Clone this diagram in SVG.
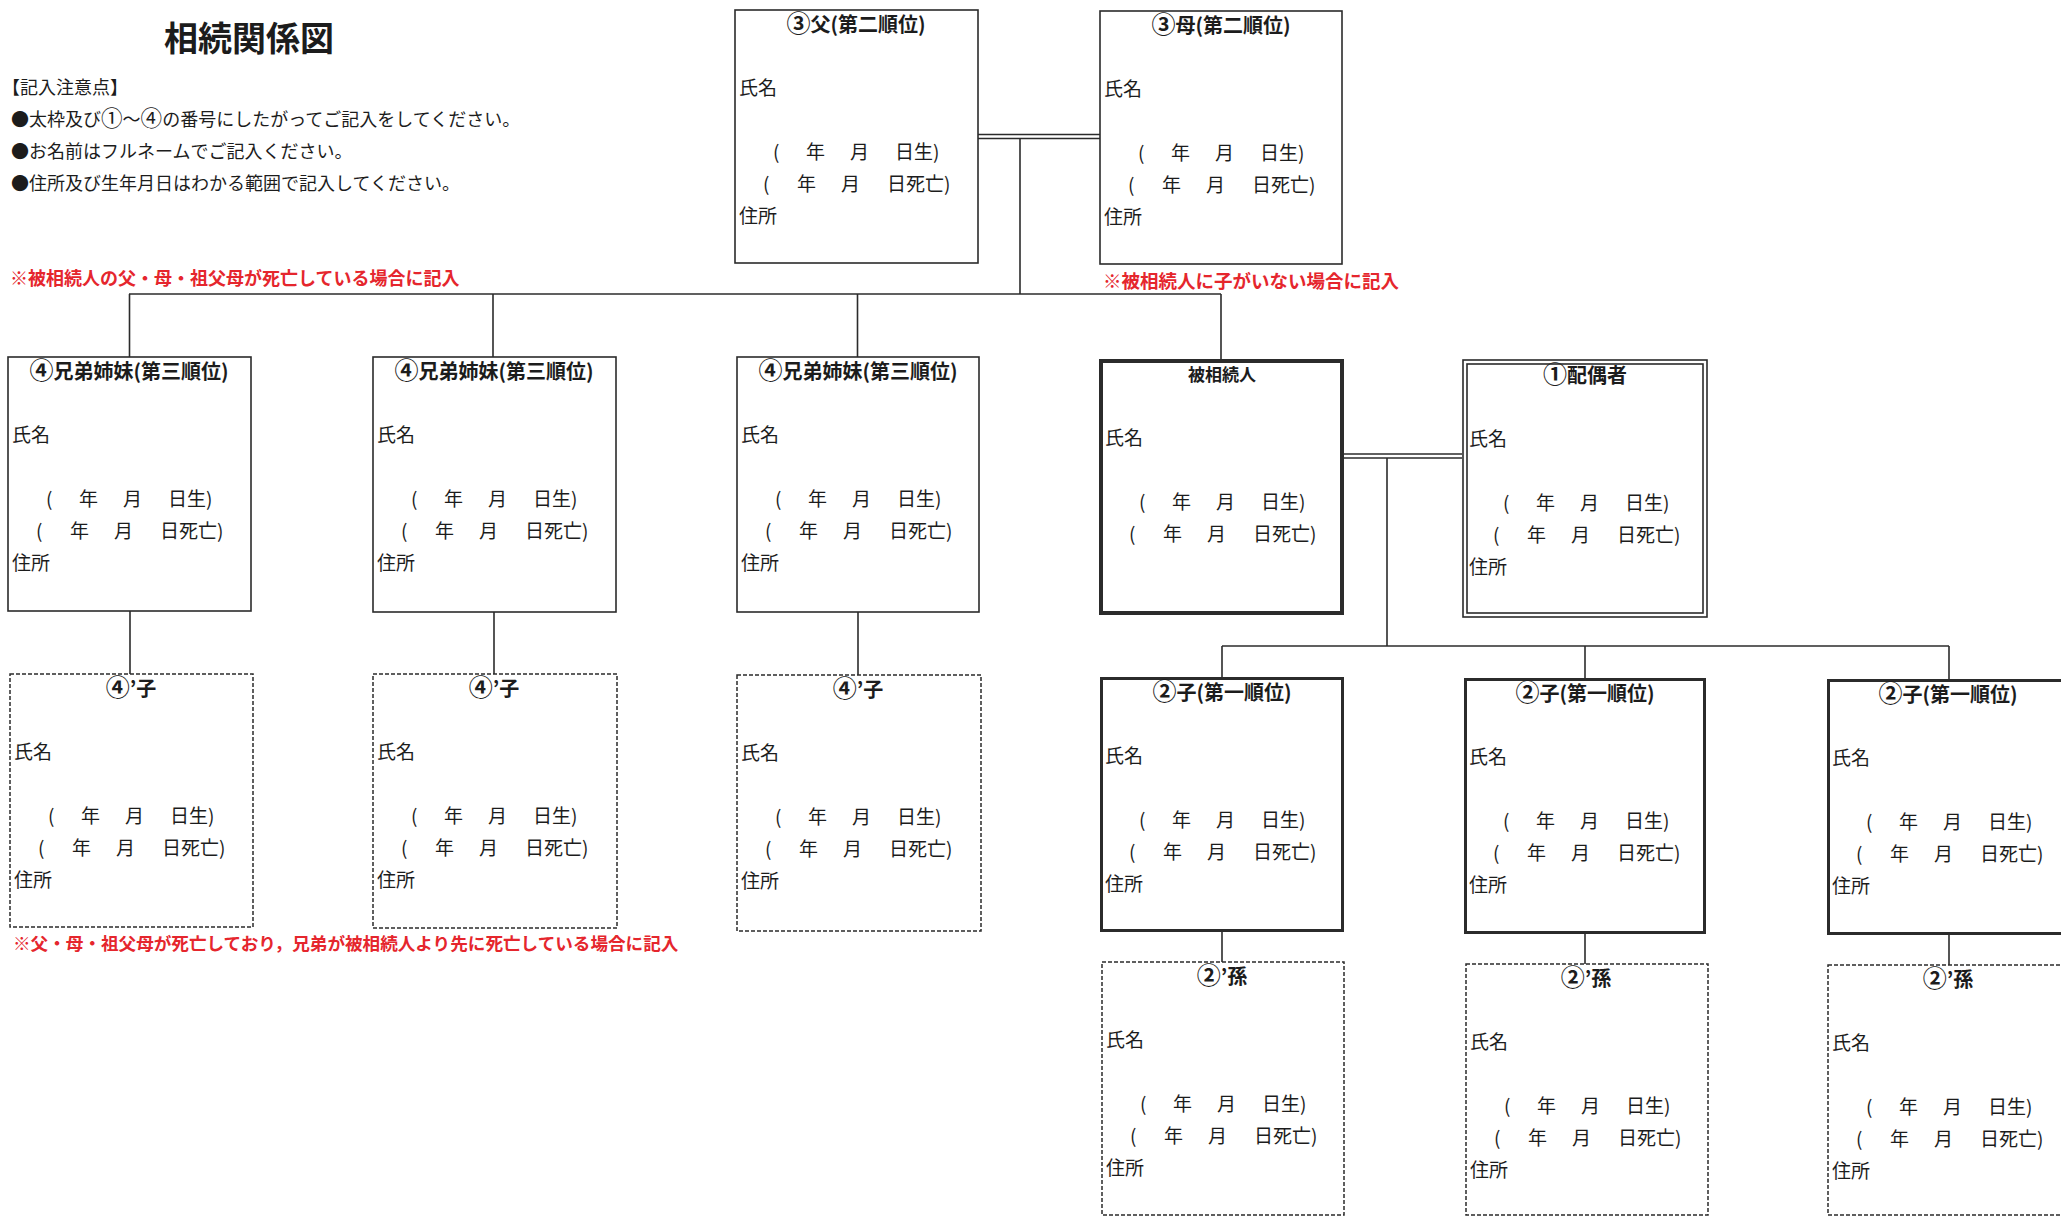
<svg xmlns="http://www.w3.org/2000/svg" width="2061" height="1217" viewBox="0 0 2061 1217">
<style>
.bg{fill:#ffffff}
.box{fill:none;stroke:#2b2b2b;stroke-width:1.6}
.thick{fill:none;stroke:#2b2b2b;stroke-width:4}
.bold{fill:none;stroke:#2b2b2b;stroke-width:3}
.dash{fill:none;stroke:#2b2b2b;stroke-width:1.5;stroke-dasharray:4 2}
.ln{fill:none;stroke:#2b2b2b;stroke-width:1.6}
text{font-family:"Noto Sans CJK JP","Noto Sans CJK SC",sans-serif;fill:#1c1c1c}
.t{font-size:19px}
.h{font-size:20px;font-weight:bold;text-anchor:middle}
.note{font-size:18px}
.red{fill:#e5262d;font-weight:bold}
.cn{font-size:1.2em}
</style>
<rect class="bg" x="0" y="0" width="2061" height="1217"/>

<g id="header">
<text x="164" y="51" style="font-size:34px;font-weight:bold">相続関係図</text>
<text class="note" x="2" y="94">【記入注意点】</text>
<text class="note" x="11" y="126">●太枠及び<tspan class="cn">①</tspan>～<tspan class="cn">④</tspan>の番号にしたがってご記入をしてください。</text>
<text class="note" x="11" y="158">●お名前はフルネームでご記入ください。</text>
<text class="note" x="11" y="190">●住所及び生年月日はわかる範囲で記入してください。</text>
<text class="note red" x="10" y="285">※被相続人の父・母・祖父母が死亡している場合に記入</text>
<text class="note red" x="1103" y="288" style="font-size:18.5px">※被相続人に子がいない場合に記入</text>
<text class="note red" x="13" y="950" style="font-size:17.6px">※父・母・祖父母が死亡しており，兄弟が被相続人より先に死亡している場合に記入</text>
</g>

<g id="connectors">
<line class="ln" x1="978" y1="134.5" x2="1100" y2="134.5"/>
<line class="ln" x1="978" y1="138.5" x2="1100" y2="138.5"/>
<line class="ln" x1="1020" y1="138.5" x2="1020" y2="294"/>
<line class="ln" x1="129" y1="294" x2="1221" y2="294"/>
<line class="ln" x1="129.5" y1="294" x2="129.5" y2="357"/>
<line class="ln" x1="493" y1="294" x2="493" y2="357"/>
<line class="ln" x1="857.5" y1="294" x2="857.5" y2="357"/>
<line class="ln" x1="1221" y1="294" x2="1221" y2="359"/>
<line class="ln" x1="130" y1="611" x2="130" y2="674"/>
<line class="ln" x1="494" y1="612" x2="494" y2="674"/>
<line class="ln" x1="858" y1="612" x2="858" y2="675"/>
<line class="ln" x1="1344" y1="454" x2="1462" y2="454"/>
<line class="ln" x1="1344" y1="458" x2="1462" y2="458"/>
<line class="ln" x1="1387" y1="458" x2="1387" y2="646"/>
<line class="ln" x1="1222" y1="646" x2="1949" y2="646"/>
<line class="ln" x1="1222" y1="646" x2="1222" y2="677"/>
<line class="ln" x1="1585" y1="646" x2="1585" y2="678"/>
<line class="ln" x1="1949" y1="646" x2="1949" y2="679"/>
<line class="ln" x1="1222" y1="931" x2="1222" y2="962"/>
<line class="ln" x1="1585" y1="933" x2="1585" y2="964"/>
<line class="ln" x1="1949" y1="934" x2="1949" y2="965"/>
</g>

<g id="father" transform="translate(735,10)">
<rect class="box" x="0" y="0" width="243" height="253"/>
<text class="h" x="121" y="22"><tspan class="cn">③</tspan>父(第二順位)</text>
<text class="t" x="4" y="85">氏名</text>
<text class="t" y="149"><tspan x="38">(</tspan><tspan x="71">年</tspan><tspan x="115">月</tspan><tspan x="160">日生)</tspan></text>
<text class="t" y="181"><tspan x="28">(</tspan><tspan x="62">年</tspan><tspan x="106">月</tspan><tspan x="152">日死亡)</tspan></text>
<text class="t" x="4" y="213">住所</text>
</g>

<g id="mother" transform="translate(1100,11)">
<rect class="box" x="0" y="0" width="242" height="253"/>
<text class="h" x="121" y="22"><tspan class="cn">③</tspan>母(第二順位)</text>
<text class="t" x="4" y="85">氏名</text>
<text class="t" y="149"><tspan x="38">(</tspan><tspan x="71">年</tspan><tspan x="115">月</tspan><tspan x="160">日生)</tspan></text>
<text class="t" y="181"><tspan x="28">(</tspan><tspan x="62">年</tspan><tspan x="106">月</tspan><tspan x="152">日死亡)</tspan></text>
<text class="t" x="4" y="213">住所</text>
</g>

<g id="sibling1" transform="translate(8,357)">
<rect class="box" x="0" y="0" width="243" height="254"/>
<text class="h" x="121" y="22"><tspan class="cn">④</tspan>兄弟姉妹(第三順位)</text>
<text class="t" x="4" y="85">氏名</text>
<text class="t" y="149"><tspan x="38">(</tspan><tspan x="71">年</tspan><tspan x="115">月</tspan><tspan x="160">日生)</tspan></text>
<text class="t" y="181"><tspan x="28">(</tspan><tspan x="62">年</tspan><tspan x="106">月</tspan><tspan x="152">日死亡)</tspan></text>
<text class="t" x="4" y="213">住所</text>
</g>

<g id="sibling2" transform="translate(373,357)">
<rect class="box" x="0" y="0" width="243" height="255"/>
<text class="h" x="121" y="22"><tspan class="cn">④</tspan>兄弟姉妹(第三順位)</text>
<text class="t" x="4" y="85">氏名</text>
<text class="t" y="149"><tspan x="38">(</tspan><tspan x="71">年</tspan><tspan x="115">月</tspan><tspan x="160">日生)</tspan></text>
<text class="t" y="181"><tspan x="28">(</tspan><tspan x="62">年</tspan><tspan x="106">月</tspan><tspan x="152">日死亡)</tspan></text>
<text class="t" x="4" y="213">住所</text>
</g>

<g id="sibling3" transform="translate(737,357)">
<rect class="box" x="0" y="0" width="242" height="255"/>
<text class="h" x="121" y="22"><tspan class="cn">④</tspan>兄弟姉妹(第三順位)</text>
<text class="t" x="4" y="85">氏名</text>
<text class="t" y="149"><tspan x="38">(</tspan><tspan x="71">年</tspan><tspan x="115">月</tspan><tspan x="160">日生)</tspan></text>
<text class="t" y="181"><tspan x="28">(</tspan><tspan x="62">年</tspan><tspan x="106">月</tspan><tspan x="152">日死亡)</tspan></text>
<text class="t" x="4" y="213">住所</text>
</g>

<g id="decedent" transform="translate(1099,359)">
<rect class="thick" x="2" y="2" width="241" height="252"/>
<text class="h" x="123" y="22" style="font-size:17px">被相続人</text>
<text class="t" x="6" y="86">氏名</text>
<text class="t" y="150"><tspan x="40">(</tspan><tspan x="73">年</tspan><tspan x="117">月</tspan><tspan x="162">日生)</tspan></text>
<text class="t" y="182"><tspan x="30">(</tspan><tspan x="64">年</tspan><tspan x="108">月</tspan><tspan x="154">日死亡)</tspan></text>
</g>

<g id="spouse" transform="translate(1462,359)">
<rect class="box" x="1" y="1" width="244" height="257"/>
<rect class="box" x="5" y="5" width="236" height="249"/>
<text class="h" x="123" y="24"><tspan class="cn">①</tspan>配偶者</text>
<text class="t" x="7" y="87">氏名</text>
<text class="t" y="151"><tspan x="41">(</tspan><tspan x="74">年</tspan><tspan x="118">月</tspan><tspan x="163">日生)</tspan></text>
<text class="t" y="183"><tspan x="31">(</tspan><tspan x="65">年</tspan><tspan x="109">月</tspan><tspan x="155">日死亡)</tspan></text>
<text class="t" x="7" y="215">住所</text>
</g>

<g id="sibchild1" transform="translate(10,674)">
<rect class="dash" x="0" y="0" width="243" height="253"/>
<text class="h" x="121" y="22"><tspan class="cn">④</tspan>’子</text>
<text class="t" x="4" y="85">氏名</text>
<text class="t" y="149"><tspan x="38">(</tspan><tspan x="71">年</tspan><tspan x="115">月</tspan><tspan x="160">日生)</tspan></text>
<text class="t" y="181"><tspan x="28">(</tspan><tspan x="62">年</tspan><tspan x="106">月</tspan><tspan x="152">日死亡)</tspan></text>
<text class="t" x="4" y="213">住所</text>
</g>

<g id="sibchild2" transform="translate(373,674)">
<rect class="dash" x="0" y="0" width="244" height="254"/>
<text class="h" x="121" y="22"><tspan class="cn">④</tspan>’子</text>
<text class="t" x="4" y="85">氏名</text>
<text class="t" y="149"><tspan x="38">(</tspan><tspan x="71">年</tspan><tspan x="115">月</tspan><tspan x="160">日生)</tspan></text>
<text class="t" y="181"><tspan x="28">(</tspan><tspan x="62">年</tspan><tspan x="106">月</tspan><tspan x="152">日死亡)</tspan></text>
<text class="t" x="4" y="213">住所</text>
</g>

<g id="sibchild3" transform="translate(737,675)">
<rect class="dash" x="0" y="0" width="244" height="256"/>
<text class="h" x="121" y="22"><tspan class="cn">④</tspan>’子</text>
<text class="t" x="4" y="85">氏名</text>
<text class="t" y="149"><tspan x="38">(</tspan><tspan x="71">年</tspan><tspan x="115">月</tspan><tspan x="160">日生)</tspan></text>
<text class="t" y="181"><tspan x="28">(</tspan><tspan x="62">年</tspan><tspan x="106">月</tspan><tspan x="152">日死亡)</tspan></text>
<text class="t" x="4" y="213">住所</text>
</g>

<g id="child1" transform="translate(1100,677)">
<rect class="bold" x="1.5" y="1.5" width="241" height="252"/>
<text class="h" x="122" y="23"><tspan class="cn">②</tspan>子(第一順位)</text>
<text class="t" x="5" y="86">氏名</text>
<text class="t" y="150"><tspan x="39">(</tspan><tspan x="72">年</tspan><tspan x="116">月</tspan><tspan x="161">日生)</tspan></text>
<text class="t" y="182"><tspan x="29">(</tspan><tspan x="63">年</tspan><tspan x="107">月</tspan><tspan x="153">日死亡)</tspan></text>
<text class="t" x="5" y="214">住所</text>
</g>

<g id="child2" transform="translate(1464,678)">
<rect class="bold" x="1.5" y="1.5" width="239" height="253"/>
<text class="h" x="121" y="23"><tspan class="cn">②</tspan>子(第一順位)</text>
<text class="t" x="5" y="86">氏名</text>
<text class="t" y="150"><tspan x="39">(</tspan><tspan x="72">年</tspan><tspan x="116">月</tspan><tspan x="161">日生)</tspan></text>
<text class="t" y="182"><tspan x="29">(</tspan><tspan x="63">年</tspan><tspan x="107">月</tspan><tspan x="153">日死亡)</tspan></text>
<text class="t" x="5" y="214">住所</text>
</g>

<g id="child3" transform="translate(1827,679)">
<rect class="bold" x="1.5" y="1.5" width="300" height="253"/>
<text class="h" x="121" y="23"><tspan class="cn">②</tspan>子(第一順位)</text>
<text class="t" x="5" y="86">氏名</text>
<text class="t" y="150"><tspan x="39">(</tspan><tspan x="72">年</tspan><tspan x="116">月</tspan><tspan x="161">日生)</tspan></text>
<text class="t" y="182"><tspan x="29">(</tspan><tspan x="63">年</tspan><tspan x="107">月</tspan><tspan x="153">日死亡)</tspan></text>
<text class="t" x="5" y="214">住所</text>
</g>

<g id="grandchild1" transform="translate(1102,962)">
<rect class="dash" x="0" y="0" width="242" height="253"/>
<text class="h" x="120" y="22"><tspan class="cn">②</tspan>’孫</text>
<text class="t" x="4" y="85">氏名</text>
<text class="t" y="149"><tspan x="38">(</tspan><tspan x="71">年</tspan><tspan x="115">月</tspan><tspan x="160">日生)</tspan></text>
<text class="t" y="181"><tspan x="28">(</tspan><tspan x="62">年</tspan><tspan x="106">月</tspan><tspan x="152">日死亡)</tspan></text>
<text class="t" x="4" y="213">住所</text>
</g>

<g id="grandchild2" transform="translate(1466,964)">
<rect class="dash" x="0" y="0" width="242" height="251"/>
<text class="h" x="120" y="22"><tspan class="cn">②</tspan>’孫</text>
<text class="t" x="4" y="85">氏名</text>
<text class="t" y="149"><tspan x="38">(</tspan><tspan x="71">年</tspan><tspan x="115">月</tspan><tspan x="160">日生)</tspan></text>
<text class="t" y="181"><tspan x="28">(</tspan><tspan x="62">年</tspan><tspan x="106">月</tspan><tspan x="152">日死亡)</tspan></text>
<text class="t" x="4" y="213">住所</text>
</g>

<g id="grandchild3" transform="translate(1828,965)">
<rect class="dash" x="0" y="0" width="300" height="250"/>
<text class="h" x="120" y="22"><tspan class="cn">②</tspan>’孫</text>
<text class="t" x="4" y="85">氏名</text>
<text class="t" y="149"><tspan x="38">(</tspan><tspan x="71">年</tspan><tspan x="115">月</tspan><tspan x="160">日生)</tspan></text>
<text class="t" y="181"><tspan x="28">(</tspan><tspan x="62">年</tspan><tspan x="106">月</tspan><tspan x="152">日死亡)</tspan></text>
<text class="t" x="4" y="213">住所</text>
</g>
</svg>
